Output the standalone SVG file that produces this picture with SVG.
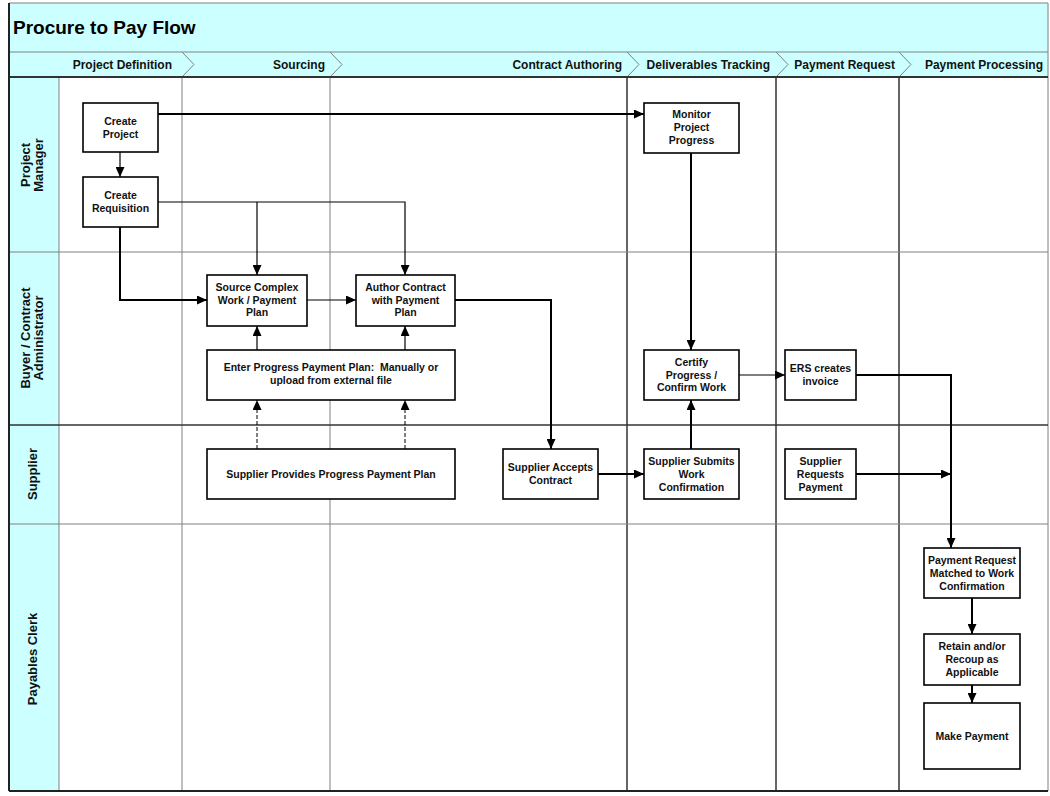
<svg xmlns="http://www.w3.org/2000/svg" width="1050" height="796" viewBox="0 0 1050 796">
<style>
.band{fill:#CCFFFF;}
.grid{stroke:#808080;stroke-width:1;fill:none;}
.dark{stroke:#333;stroke-width:1.5;fill:none;}
.box{fill:#fff;stroke:#000;stroke-width:1.6;}
.t{font-family:"Liberation Sans",Arial,sans-serif;font-weight:bold;font-size:10.5px;fill:#111;text-anchor:middle;}
.ph{font-family:"Liberation Sans",Arial,sans-serif;font-weight:bold;font-size:12px;fill:#111;text-anchor:end;}
.ln{font-family:"Liberation Sans",Arial,sans-serif;font-weight:bold;font-size:13px;fill:#111;text-anchor:middle;}
.c{stroke:#000;stroke-width:2;fill:none;}
.c1{stroke:#000;stroke-width:1.2;fill:none;}
.d{stroke:#000;stroke-width:1;fill:none;stroke-dasharray:4,2;}
</style>
<defs>
<marker id="ah" markerUnits="userSpaceOnUse" markerWidth="11" markerHeight="9" refX="10" refY="4.5" orient="auto">
<path d="M0,0 L10,4.5 L0,9 z" fill="#000"/>
</marker>
</defs>
<rect x="0" y="0" width="1050" height="796" fill="#fff"/>
<g id="frame">
<rect class="band" x="9" y="3" width="1039" height="74"/>
<rect class="band" x="9" y="77" width="50" height="714"/>
<line class="grid" x1="9" y1="52" x2="1048" y2="52"/>
<line class="grid" x1="9" y1="3" x2="1048" y2="3"/>
<line class="grid" x1="1048" y1="3" x2="1048" y2="791"/>
<text x="13" y="34" font-family="Liberation Sans,Arial,sans-serif" font-weight="bold" font-size="19" fill="#000">Procure to Pay Flow</text>
<path class="grid" d="M182,52 L194,64.5 L182,77 M330,52 L342,64.5 L330,77 M627,52 L639,64.5 L627,77 M776,52 L788,64.5 L776,77 M899,52 L911,64.5 L899,77"/>
<text class="ph" x="172" y="69">Project Definition</text>
<text class="ph" x="325" y="69">Sourcing</text>
<text class="ph" x="622" y="69">Contract Authoring</text>
<text class="ph" x="770" y="69">Deliverables Tracking</text>
<text class="ph" x="895" y="69">Payment Request</text>
<text class="ph" x="1043" y="69">Payment Processing</text>
<line class="grid" x1="59" y1="77" x2="59" y2="791"/>
<line class="grid" x1="182" y1="77" x2="182" y2="791"/>
<line class="grid" x1="330" y1="77" x2="330" y2="791"/>
<line class="dark" x1="627" y1="77" x2="627" y2="791"/>
<line class="dark" x1="776" y1="77" x2="776" y2="791"/>
<line class="dark" x1="899" y1="77" x2="899" y2="791"/>
<line class="grid" x1="9" y1="252" x2="1048" y2="252"/>
<line class="dark" x1="9" y1="425" x2="1048" y2="425"/>
<line class="grid" x1="9" y1="524" x2="1048" y2="524"/>
<line stroke="#333" stroke-width="2" x1="9" y1="77" x2="1048" y2="77"/>
<line stroke="#222" stroke-width="2" x1="9" y1="3" x2="9" y2="791"/>
<line stroke="#222" stroke-width="2" x1="9" y1="791" x2="1048" y2="791"/>
<text class="ln" transform="translate(30,165) rotate(-90)">Project</text>
<text class="ln" transform="translate(43,165) rotate(-90)">Manager</text>
<text class="ln" transform="translate(30,338) rotate(-90)">Buyer / Contract</text>
<text class="ln" transform="translate(43,338) rotate(-90)">Administrator</text>
<text class="ln" transform="translate(37,474) rotate(-90)">Supplier</text>
<text class="ln" transform="translate(37,659) rotate(-90)">Payables Clerk</text>
</g>
<g id="connectors">
<path class="c" d="M158,114 H644" marker-end="url(#ah)"/>
<path class="c1" d="M120,152 V177" marker-end="url(#ah)"/>
<path class="c1" d="M158,202 H405 V275" marker-end="url(#ah)"/>
<path class="c1" d="M257,202 V275" marker-end="url(#ah)"/>
<path class="c" d="M120,227 V300 H207" marker-end="url(#ah)"/>
<path class="c1" d="M307,300 H356" marker-end="url(#ah)"/>
<path class="c1" d="M257,350 V326" marker-end="url(#ah)"/>
<path class="c1" d="M405,350 V326" marker-end="url(#ah)"/>
<path class="d" d="M257,449 V400" marker-end="url(#ah)"/>
<path class="d" d="M405,449 V400" marker-end="url(#ah)"/>
<path class="c" d="M455,300 H551 V449" marker-end="url(#ah)"/>
<path class="c" d="M598,474 H644" marker-end="url(#ah)"/>
<path class="c" d="M691,449 V400" marker-end="url(#ah)"/>
<path class="c" d="M691,153 V350" marker-end="url(#ah)"/>
<path class="c1" d="M739,375 H785" marker-end="url(#ah)"/>
<path class="c" d="M856,375 H951 V548" marker-end="url(#ah)"/>
<path class="c" d="M856,474 H951" marker-end="url(#ah)"/>
<path class="c" d="M972,598 V634" marker-end="url(#ah)"/>
<path class="c" d="M972,685 V703" marker-end="url(#ah)"/>
</g>
<g id="create-project">
<rect class="box" x="83" y="103" width="75" height="49"/>
<text class="t" x="120.5" y="124.5">Create</text>
<text class="t" x="120.5" y="137.5">Project</text>
</g>
<g id="create-requisition">
<rect class="box" x="83" y="177" width="75" height="50"/>
<text class="t" x="120.5" y="199">Create</text>
<text class="t" x="120.5" y="212">Requisition</text>
</g>
<g id="source-complex">
<rect class="box" x="207" y="275" width="100" height="51"/>
<text class="t" x="257" y="291">Source Complex</text>
<text class="t" x="257" y="303.5">Work / Payment</text>
<text class="t" x="257" y="316">Plan</text>
</g>
<g id="author-contract">
<rect class="box" x="356" y="275" width="99" height="51"/>
<text class="t" x="405.5" y="291">Author Contract</text>
<text class="t" x="405.5" y="303.5">with Payment</text>
<text class="t" x="405.5" y="316">Plan</text>
</g>
<g id="enter-plan">
<rect class="box" x="207" y="350" width="248" height="50"/>
<text class="t" x="331" y="371" xml:space="preserve">Enter Progress Payment Plan:  Manually or</text>
<text class="t" x="331" y="384">upload from external file</text>
</g>
<g id="supplier-provides">
<rect class="box" x="207" y="449" width="248" height="50"/>
<text class="t" x="331" y="478">Supplier Provides Progress Payment Plan</text>
</g>
<g id="supplier-accepts">
<rect class="box" x="503" y="449" width="95" height="50"/>
<text class="t" x="550.5" y="471">Supplier Accepts</text>
<text class="t" x="550.5" y="484">Contract</text>
</g>
<g id="monitor">
<rect class="box" x="644" y="103" width="95" height="50"/>
<text class="t" x="691.5" y="118">Monitor</text>
<text class="t" x="691.5" y="131">Project</text>
<text class="t" x="691.5" y="144">Progress</text>
</g>
<g id="certify">
<rect class="box" x="644" y="350" width="95" height="50"/>
<text class="t" x="691.5" y="365.5">Certify</text>
<text class="t" x="691.5" y="378.5">Progress /</text>
<text class="t" x="691.5" y="391">Confirm Work</text>
</g>
<g id="ers">
<rect class="box" x="785" y="350" width="71" height="50"/>
<text class="t" x="820.5" y="372">ERS creates</text>
<text class="t" x="820.5" y="385">invoice</text>
</g>
<g id="supplier-submits">
<rect class="box" x="644" y="449" width="95" height="50"/>
<text class="t" x="691.5" y="464.5">Supplier Submits</text>
<text class="t" x="691.5" y="477.5">Work</text>
<text class="t" x="691.5" y="490.5">Confirmation</text>
</g>
<g id="supplier-requests">
<rect class="box" x="785" y="449" width="71" height="50"/>
<text class="t" x="820.5" y="464.5">Supplier</text>
<text class="t" x="820.5" y="477.5">Requests</text>
<text class="t" x="820.5" y="490.5">Payment</text>
</g>
<g id="payment-matched">
<rect class="box" x="924" y="548" width="96" height="50"/>
<text class="t" x="972" y="563.5">Payment Request</text>
<text class="t" x="972" y="576.5">Matched to Work</text>
<text class="t" x="972" y="589.5">Confirmation</text>
</g>
<g id="retain">
<rect class="box" x="924" y="634" width="96" height="51"/>
<text class="t" x="972" y="649.5">Retain and/or</text>
<text class="t" x="972" y="662.5">Recoup as</text>
<text class="t" x="972" y="675.5">Applicable</text>
</g>
<g id="make-payment">
<rect class="box" x="924" y="703" width="96" height="66"/>
<text class="t" x="972" y="740">Make Payment</text>
</g>
</svg>
